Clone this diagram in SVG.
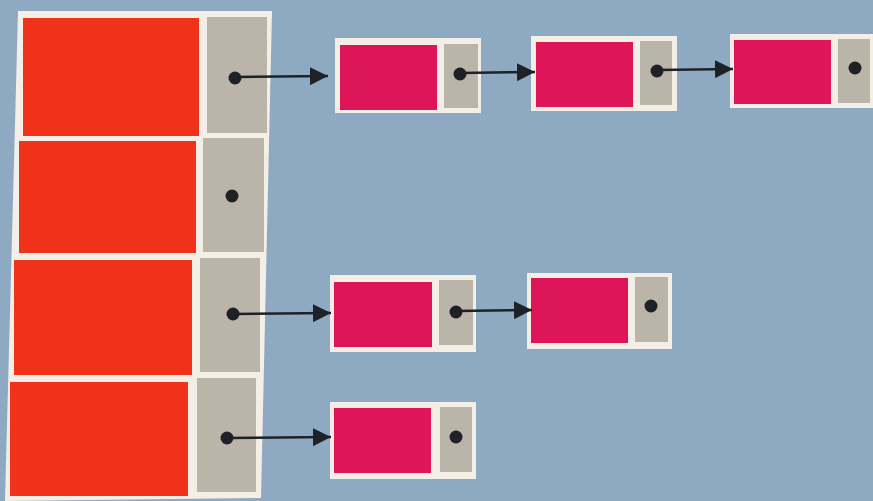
<svg xmlns="http://www.w3.org/2000/svg" width="873" height="501" viewBox="0 0 873 501">
<style>
.bg{fill:#8eaac2}
.frame{fill:#f3efe6}
.red{fill:#f1321a}
.pink{fill:#de1558}
.gray{fill:#bbb4a9}
.dot{fill:#1e2226}
.link{stroke:#1e2226;stroke-width:2.5;fill:none}
</style>
<defs>
<marker id="arrow" viewBox="0 0 18 18" refX="18" refY="9" markerWidth="18" markerHeight="18" markerUnits="userSpaceOnUse" orient="auto">
<path d="M0,0 L18,9 L0,18 z" fill="#1e2226"/>
</marker>
</defs>
<rect class="bg" x="0" y="0" width="873" height="501"/>
<g id="table">
<polygon class="frame" points="18,11 272,11 261,498 5,501"/>
<rect class="red" x="23" y="18" width="176" height="118"/>
<rect class="gray" x="207" y="17" width="60" height="116"/>
<rect class="red" x="19" y="141" width="177" height="112"/>
<rect class="gray" x="203" y="138" width="61" height="114"/>
<rect class="red" x="14" y="260" width="178" height="115"/>
<rect class="gray" x="200" y="258" width="60" height="114"/>
<rect class="red" x="10" y="382" width="178" height="114"/>
<rect class="gray" x="197" y="378" width="59" height="114"/>
<circle class="dot" cx="235" cy="78" r="6.5"/>
<circle class="dot" cx="232" cy="196" r="6.5"/>
<circle class="dot" cx="233" cy="314" r="6.5"/>
<circle class="dot" cx="227" cy="438" r="6.5"/>
</g>
<g id="nodeA">
<rect class="frame" x="335" y="38" width="146" height="75"/>
<rect class="pink" x="340" y="45" width="97" height="65"/>
<rect class="gray" x="444" y="44" width="34" height="64"/>
<circle class="dot" cx="460" cy="74" r="6.5"/>
</g>
<g id="nodeB">
<rect class="frame" x="531" y="36" width="146" height="75"/>
<rect class="pink" x="536" y="42" width="97" height="65"/>
<rect class="gray" x="640" y="41" width="32" height="64"/>
<circle class="dot" cx="657" cy="71" r="6.5"/>
</g>
<g id="nodeC">
<rect class="frame" x="730" y="34" width="146" height="74"/>
<rect class="pink" x="734" y="40" width="97" height="64"/>
<rect class="gray" x="838" y="39" width="32" height="64"/>
<circle class="dot" cx="855" cy="68" r="6.5"/>
</g>
<g id="nodeD">
<rect class="frame" x="330" y="275" width="146" height="77"/>
<rect class="pink" x="334" y="282" width="98" height="65"/>
<rect class="gray" x="439" y="280" width="34" height="65"/>
<circle class="dot" cx="456" cy="312" r="6.5"/>
</g>
<g id="nodeE">
<rect class="frame" x="527" y="273" width="145" height="76"/>
<rect class="pink" x="531" y="278" width="97" height="65"/>
<rect class="gray" x="635" y="277" width="33" height="65"/>
<circle class="dot" cx="651" cy="306" r="6.5"/>
</g>
<g id="nodeF">
<rect class="frame" x="330" y="402" width="146" height="77"/>
<rect class="pink" x="334" y="408" width="97" height="65"/>
<rect class="gray" x="440" y="407" width="32" height="65"/>
<circle class="dot" cx="456" cy="437" r="6.5"/>
</g>
<g id="connectors">
<line class="link" x1="235" y1="77" x2="328" y2="76" marker-end="url(#arrow)"/>
<line class="link" x1="460" y1="73" x2="535" y2="72" marker-end="url(#arrow)"/>
<line class="link" x1="657" y1="70" x2="733" y2="69" marker-end="url(#arrow)"/>
<line class="link" x1="233" y1="314" x2="331" y2="313" marker-end="url(#arrow)"/>
<line class="link" x1="456" y1="311" x2="532" y2="310" marker-end="url(#arrow)"/>
<line class="link" x1="227" y1="438" x2="331" y2="437" marker-end="url(#arrow)"/>
</g>
</svg>
